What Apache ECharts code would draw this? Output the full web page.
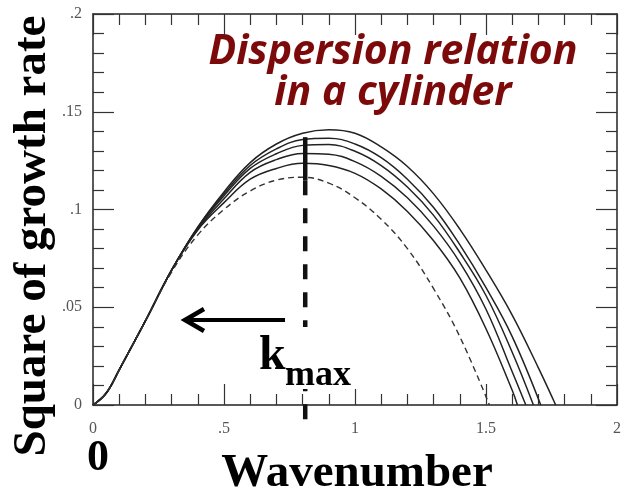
<!DOCTYPE html>
<html>
<head>
<meta charset="utf-8">
<script src="https://cdn.jsdelivr.net/npm/echarts@6/dist/echarts.min.js"></script>
<style>
  html, body { margin: 0; padding: 0; background: #fff; }
  #chart { width: 624px; height: 494px; }
</style>
</head>
<body>
<div id="chart"></div>
<script>
// wavenumber samples shared by all curves
const wavenumber = [0, 0.05, 0.1, 0.2, 0.3, 0.4, 0.5, 0.6, 0.7, 0.8, 0.9, 1.0, 1.1, 1.2, 1.3, 1.4, 1.5, 1.6, 1.7];

// square of growth rate, five solid curves (outer -> inner) + dashed one
const curveA = [0, 0.006, 0.018, 0.043, 0.069, 0.091, 0.109, 0.124, 0.1335, 0.139, 0.1408, 0.139, 0.132, 0.122, 0.108, 0.090, 0.069, 0.046, 0.019];
const curveB = [0, 0.006, 0.018, 0.043, 0.069, 0.091, 0.108, 0.1225, 0.131, 0.1358, 0.1365, 0.1335, 0.1265, 0.1155, 0.101, 0.082, 0.060, 0.035];
const curveC = [0, 0.006, 0.018, 0.043, 0.069, 0.0905, 0.107, 0.121, 0.1285, 0.1328, 0.1332, 0.1298, 0.1225, 0.1115, 0.097, 0.078, 0.056, 0.027];
const curveD = [0, 0.006, 0.018, 0.043, 0.069, 0.090, 0.1055, 0.119, 0.1255, 0.1287, 0.1283, 0.1245, 0.117, 0.106, 0.0915, 0.073, 0.049, 0.017];
const curveE = [0, 0.006, 0.018, 0.043, 0.069, 0.0895, 0.1035, 0.1155, 0.121, 0.1236, 0.1225, 0.1185, 0.1105, 0.099, 0.084, 0.065, 0.039, 0.0075];
const curveDashed = [0, 0.006, 0.018, 0.043, 0.068, 0.087, 0.100, 0.1095, 0.115, 0.1165, 0.1135, 0.106, 0.095, 0.080, 0.0595, 0.035];
// where each curve comes back to zero
const cutoffs = [1.766, 1.709, 1.681, 1.652, 1.62, 1.513];

const xTickLabels = ['0', '.5', '1', '1.5', '2'];
const yTickLabels = ['0', '.05', '.1', '.15', '.2'];

const kmax = 0.81;

function toPairs(ys, cut) {
  return ys.map((y, i) => [wavenumber[i], y]).concat([[cut, 0]]);
}

const chart = echarts.init(document.getElementById('chart'));

const tickStyle = { color: '#333', width: 1.2 };
function axis(extra) {
  return Object.assign({
    type: 'value',
    axisLine: { show: true, onZero: false, lineStyle: { color: '#222', width: 1.5 } },
    axisTick: { show: true, inside: true, length: 21, lineStyle: tickStyle },
    minorTick: { show: true, splitNumber: 5, length: 11, lineStyle: tickStyle },
    splitLine: { show: false },
    minorSplitLine: { show: false }
  }, extra);
}
const labelFont = { color: '#555', fontFamily: 'Liberation Serif', fontSize: 16 };

const solid = [curveA, curveB, curveC, curveD, curveE].map((ys, i) => ({
  type: 'line',
  data: toPairs(ys, cutoffs[i]),
  smooth: 0.4,
  showSymbol: false,
  lineStyle: { color: '#222', width: 1.5 },
  z: 3
}));

const serif = '"Liberation Serif", "DejaVu Serif", serif';
const redFont = 'italic bold 41px "Open Sans", Lato, sans-serif';

chart.setOption({
  animation: false,
  grid: { left: 93, right: 5, top: 14, bottom: 89 },
  xAxis: [
    axis({ min: 0, max: 2, interval: 0.5, position: 'bottom',
      axisLabel: Object.assign({ margin: 16, showMaxLabel: true, formatter: (v, i) => xTickLabels[i] }, labelFont) }),
    axis({ min: 0, max: 2, interval: 0.5, position: 'top', axisLabel: { show: false } })
  ],
  yAxis: [
    axis({ min: 0, max: 0.2, interval: 0.05, position: 'left',
      axisLabel: Object.assign({ margin: 11, showMaxLabel: true, formatter: (v, i) => yTickLabels[i] }, labelFont) }),
    axis({ min: 0, max: 0.2, interval: 0.05, position: 'right', axisLabel: { show: false } })
  ],
  series: solid.concat([
    {
      type: 'line',
      data: toPairs(curveDashed, cutoffs[5]),
      smooth: 0.4,
      showSymbol: false,
      lineStyle: { color: '#333', width: 1.4, type: [6, 4] },
      z: 3
    },
    // k_max marker: solid top then thick dashes
    {
      type: 'line',
      data: [[kmax, 0.137], [kmax, 0.115]],
      showSymbol: false,
      clip: false,
      lineStyle: { color: '#111', width: 4.5 },
      z: 4
    },
    {
      type: 'line',
      data: [[kmax, 0.115], [kmax, -0.0113]],
      showSymbol: false,
      clip: false,
      lineStyle: { color: '#111', width: 4.5, type: [15, 13] },
      z: 4
    }
  ]),
  graphic: [
    {
      type: 'text', x: 33, y: 236, rotation: Math.PI / 2,
      style: { text: 'Square of growth rate', font: 'bold 47px ' + serif, fill: '#000', align: 'center', verticalAlign: 'middle' }
    },
    {
      type: 'text', x: 357, y: 474,
      style: { text: 'Wavenumber', font: 'bold 47px ' + serif, fill: '#000', align: 'center', verticalAlign: 'middle' }
    },
    {
      type: 'text', x: 98, y: 459,
      style: { text: '0', font: 'bold 44px ' + serif, fill: '#000', align: 'center', verticalAlign: 'middle' }
    },
    {
      type: 'rect', shape: { x: 256, y: 327, width: 104, height: 62 },
      style: { fill: '#fff' }, z: 90
    },
    {
      type: 'text', x: 259, y: 357, z: 100,
      style: { text: 'k', font: 'bold 48px ' + serif, fill: '#000', align: 'left', verticalAlign: 'middle' }
    },
    {
      type: 'text', x: 285, y: 376, z: 100,
      style: { text: 'max', font: 'bold 36px ' + serif, fill: '#000', align: 'left', verticalAlign: 'middle' }
    },
    {
      type: 'line', shape: { x1: 285, y1: 320, x2: 186, y2: 320 },
      style: { stroke: '#000', lineWidth: 4 }, z: 100
    },
    {
      type: 'polyline', shape: { points: [[204, 309], [185, 320], [204, 331]] },
      style: { stroke: '#000', lineWidth: 4.5, fill: null }, z: 100
    },
    {
      type: 'text', x: 393, y: 52,
      style: { text: 'Dispersion relation', font: redFont, fill: '#7d0a0a', align: 'center', verticalAlign: 'middle' }
    },
    {
      type: 'text', x: 393, y: 93,
      style: { text: 'in a cylinder', font: redFont, fill: '#7d0a0a', align: 'center', verticalAlign: 'middle' }
    }
  ]
});
</script>
</body>
</html>
